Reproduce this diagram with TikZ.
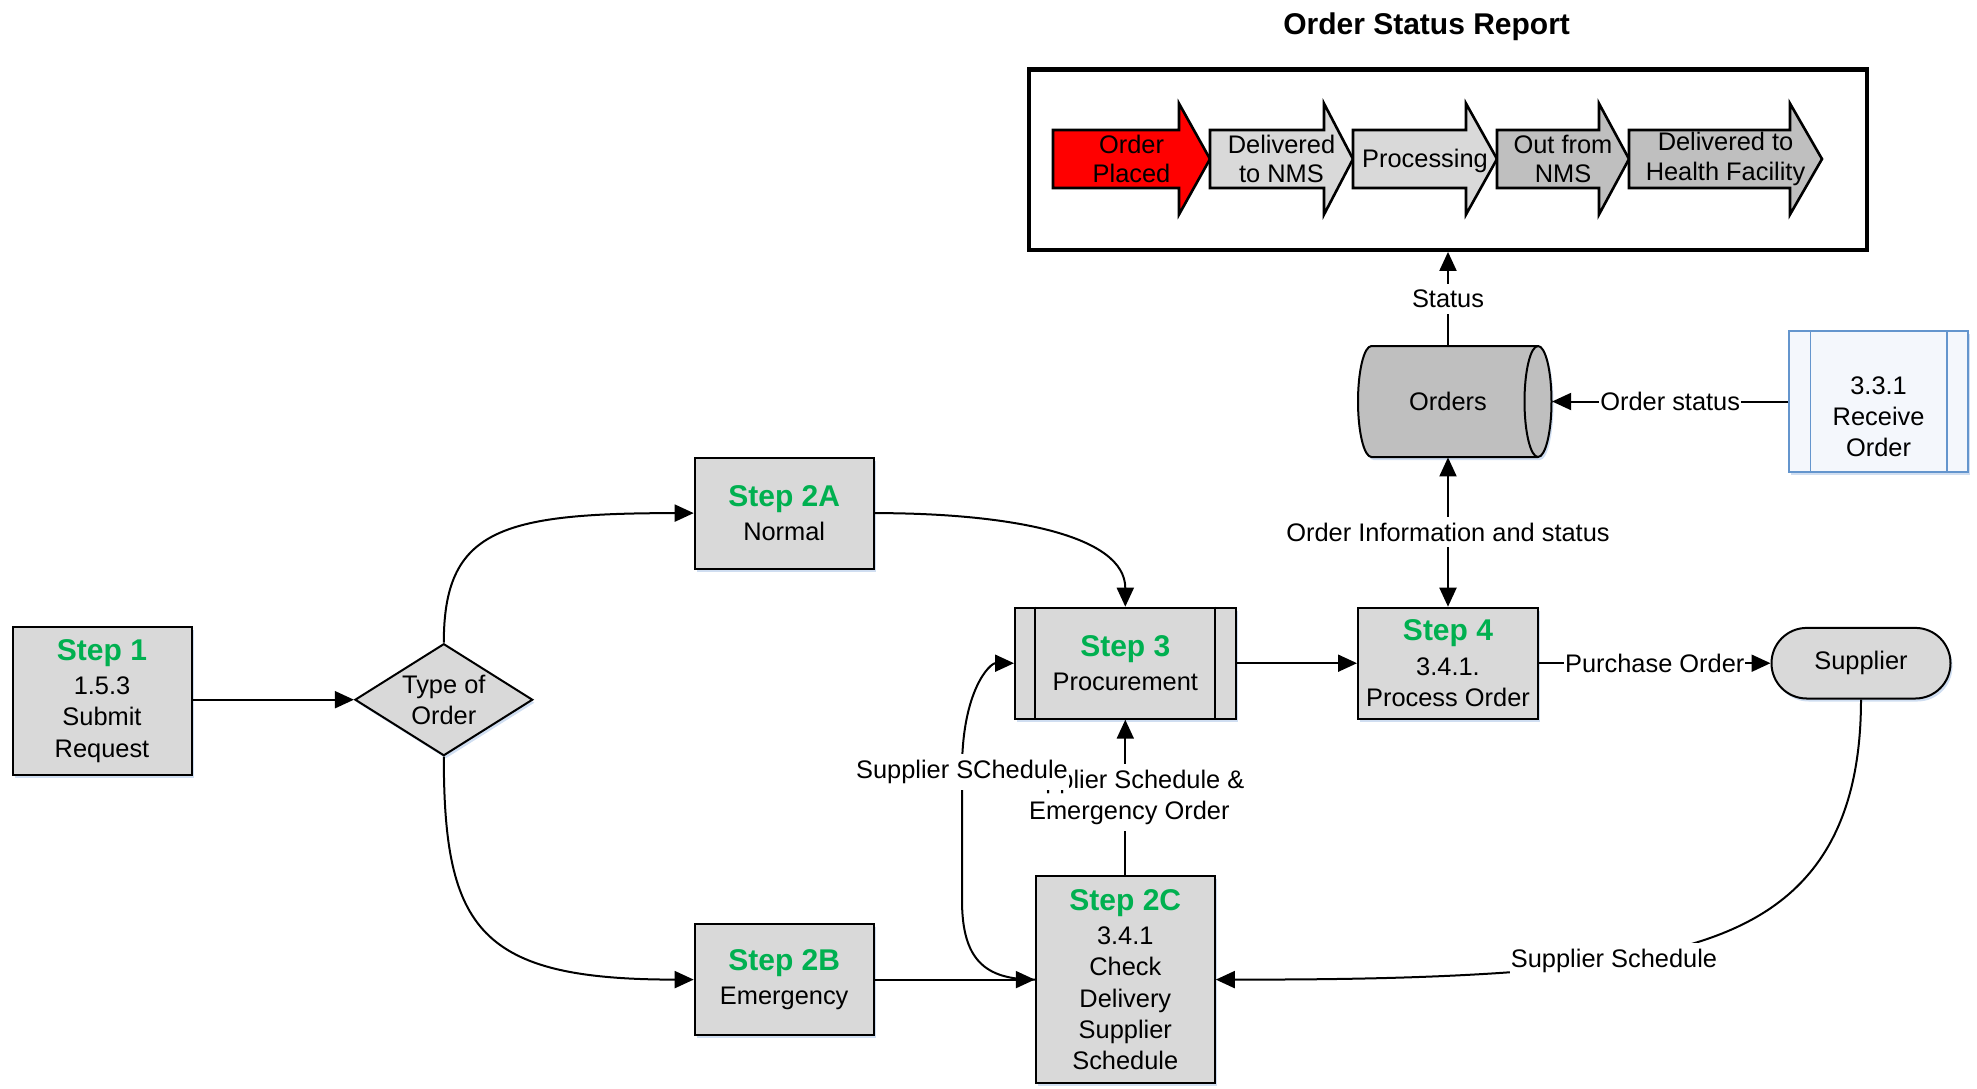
\documentclass[tikz,border=0pt]{standalone}
\usepackage{fontspec}
\setmainfont{Liberation Sans}
\usetikzlibrary{arrows.meta,shapes.geometric,shadows}

\definecolor{boxgray}{RGB}{217,217,217}
\definecolor{cylgray}{RGB}{191,191,191}
\definecolor{stepgreen}{RGB}{0,176,80}
\definecolor{procblue}{RGB}{100,149,205}
\definecolor{procfill}{RGB}{244,247,252}
\definecolor{glow}{RGB}{196,214,238}

\newcommand{\stp}[1]{{\fontsize{15}{15}\selectfont\bfseries\color{stepgreen}#1}}

\begin{document}
\begin{tikzpicture}[x=0.5pt, y=0.5pt,
  font=\fontsize{12.7}{15.6}\selectfont,
  glowshadow/.style={drop shadow={shadow xshift=1pt, shadow yshift=-1.5pt, fill=glow, opacity=0.8}},
  box/.style={draw, line width=1pt, fill=boxgray, glowshadow, minimum width=89.5pt,
              minimum height=55.5pt, align=center, inner sep=2pt},
  conn/.style={line width=1pt, -{Triangle[length=9.5pt,width=8.5pt]}},
  lbl/.style={fill=white, inner xsep=0.5pt, inner ysep=3pt, align=center},
  statusarrow/.style={draw, line width=1.3pt, line join=miter},
  arrowtext/.style={align=center, font=\fontsize{12.7}{14.6}\selectfont, inner sep=0pt}]

\useasboundingbox (0,0) rectangle (1977,-1088);

% ---------- status report panel ----------
\node[font=\fontsize{15}{18}\selectfont\bfseries] (title) at (1426.6,-27) {Order Status Report};
\node[draw, line width=2.2pt, fill=white, minimum width=419.2pt, minimum height=90.2pt] (frame) at (1448,-159.5) {};

\path[statusarrow, fill=red] (1053,-130) -- (1179,-130) -- (1179,-103.5) -- (1210,-159)
  -- (1179,-214.5) -- (1179,-188) -- (1053,-188) -- cycle;
\node[arrowtext] (st1) at (1131.5,-159) {Order\\Placed};

\path[statusarrow, fill=boxgray] (1210,-130) -- (1324,-130) -- (1324,-103.5) -- (1353,-159)
  -- (1324,-214.5) -- (1324,-188) -- (1210,-188) -- cycle;
\node[arrowtext] (st2) at (1281.5,-159) {Delivered\\to NMS};

\path[statusarrow, fill=boxgray] (1353,-130) -- (1466,-130) -- (1466,-103.5) -- (1497,-159)
  -- (1466,-214.5) -- (1466,-188) -- (1353,-188) -- cycle;
\node[arrowtext] (st3) at (1425,-161) {Processing};

\path[statusarrow, fill=cylgray] (1497,-130) -- (1599,-130) -- (1599,-103.5) -- (1629,-159)
  -- (1599,-214.5) -- (1599,-188) -- (1497,-188) -- cycle;
\node[arrowtext] (st4) at (1563,-159) {Out from\\NMS};

\path[statusarrow, fill=cylgray] (1629,-130) -- (1790,-130) -- (1790,-103.5) -- (1822,-159)
  -- (1790,-214.5) -- (1790,-188) -- (1629,-188) -- cycle;
\node[arrowtext] (st5) at (1725.5,-159) {Delivered to\\Health Facility};

% ---------- Orders data store (horizontal cylinder) ----------
\path[draw, line width=1pt, fill=cylgray, glowshadow]
  (1371.5,-346) -- (1538,-346) arc[start angle=90, end angle=-90, x radius=13.5, y radius=55.5]
  -- (1371.5,-457) arc[start angle=270, end angle=90, x radius=13.5, y radius=55.5] -- cycle;
\draw[line width=1pt] (1538,-346) arc[start angle=90, end angle=270, x radius=13.5, y radius=55.5];
\node[inner sep=0pt, minimum width=103.7pt, minimum height=55.5pt] (orders) at (1448,-401.5) {Orders};

% ---------- receive order process ----------
\node[draw=procblue, line width=0.8pt, fill=procfill, glowshadow, minimum width=89.5pt,
      minimum height=70.6pt] (recv) at (1878.6,-401.5) {};
\draw[procblue, line width=0.8pt] ([xshift=11pt]recv.north west) -- ([xshift=11pt]recv.south west);
\draw[procblue, line width=0.8pt] ([xshift=-11pt]recv.north east) -- ([xshift=-11pt]recv.south east);
\node[align=center] (recvtext) at ([yshift=-7.6pt]recv.center) {3.3.1\\Receive\\Order};

% ---------- process steps ----------
\node[box, minimum height=73.7pt] (s1) at (102,-701) {\stp{Step 1}\\[1.5pt]1.5.3\\Submit\\Request};
\node[diamond, draw, line width=1pt, fill=boxgray, glowshadow, inner sep=0pt, shape aspect=1.59,
      minimum width=88.9pt, minimum height=56pt, align=center] (type) at (443.8,-699.7) {Type of\\Order};
\node[box] (s2a) at (784.2,-513.1) {\stp{Step 2A}\\[1.5pt]Normal};
\node[box] (s2b) at (784.2,-979.6) {\stp{Step 2B}\\[1.5pt]Emergency};
\node[box, minimum width=110.3pt] (s3) at (1125.3,-663.2) {\stp{Step 3}\\[1.5pt]Procurement};
\draw[line width=1pt] ([xshift=10.7pt]s3.north west) -- ([xshift=10.7pt]s3.south west);
\draw[line width=1pt] ([xshift=-10.7pt]s3.north east) -- ([xshift=-10.7pt]s3.south east);
\node[box, minimum width=90pt] (s4) at (1448,-663.2) {\stp{Step 4}\\[1.5pt]3.4.1.\\Process Order};
\node[box, rounded corners=17.6pt, minimum height=35.3pt] (sup) at (1861,-663.2) {Supplier};
\node[box, minimum height=103.4pt] (s2c) at (1125.3,-979.6)
  {\stp{Step 2C}\\[1.5pt]3.4.1\\Check\\Delivery\\Supplier\\Schedule};

% ---------- connectors ----------
\draw[conn] (s1.east |- type.west) -- (type.west);
\draw[conn] (type.north) .. controls (443.8,-530) and (500,-513.1) .. (s2a.west);
\draw[conn] (type.south) .. controls (443.8,-930) and (480,-979.6) .. (s2b.west);
\draw[conn] (s2a.east) .. controls (1010,-513.1) and (1125.3,-535) .. (s3.north);
\draw[conn] (s2b.east) -- (s2c.west);
\draw[conn] (s3.east) -- (s4.west);
\draw[conn] (s4.east) -- node[lbl] {Purchase Order} (sup.west);
\draw[conn] (s2c.north) -- node[lbl, xshift=2pt] {Supplier Schedule \&\\Emergency Order} (s3.south);
\draw[conn] (s2c.west) .. controls (985,-979.6) and (962,-960) .. (962,-900)
  -- (962,-770) node[lbl, pos=0.985] {Supplier SChedule}
  .. controls (962,-690) and (990,-663.2) .. (s3.west);
\draw[conn] (sup.south) .. controls (1861,-900) and (1740,-940) .. (1614,-961)
  node[lbl] {Supplier Schedule}
  .. controls (1500,-979) and (1330,-979.6) .. (s2c.east);
\draw[line width=1pt, {Triangle[length=9.5pt,width=8.5pt]}-{Triangle[length=9.5pt,width=8.5pt]}]
  (s4.north) -- node[lbl] {Order Information and status} (orders.south);
\draw[conn] (orders.north) -- node[lbl] {Status} (orders.north |- frame.south);
\draw[conn] (recv.west) -- node[lbl] {Order status} (orders.east);

\end{tikzpicture}
\end{document}
